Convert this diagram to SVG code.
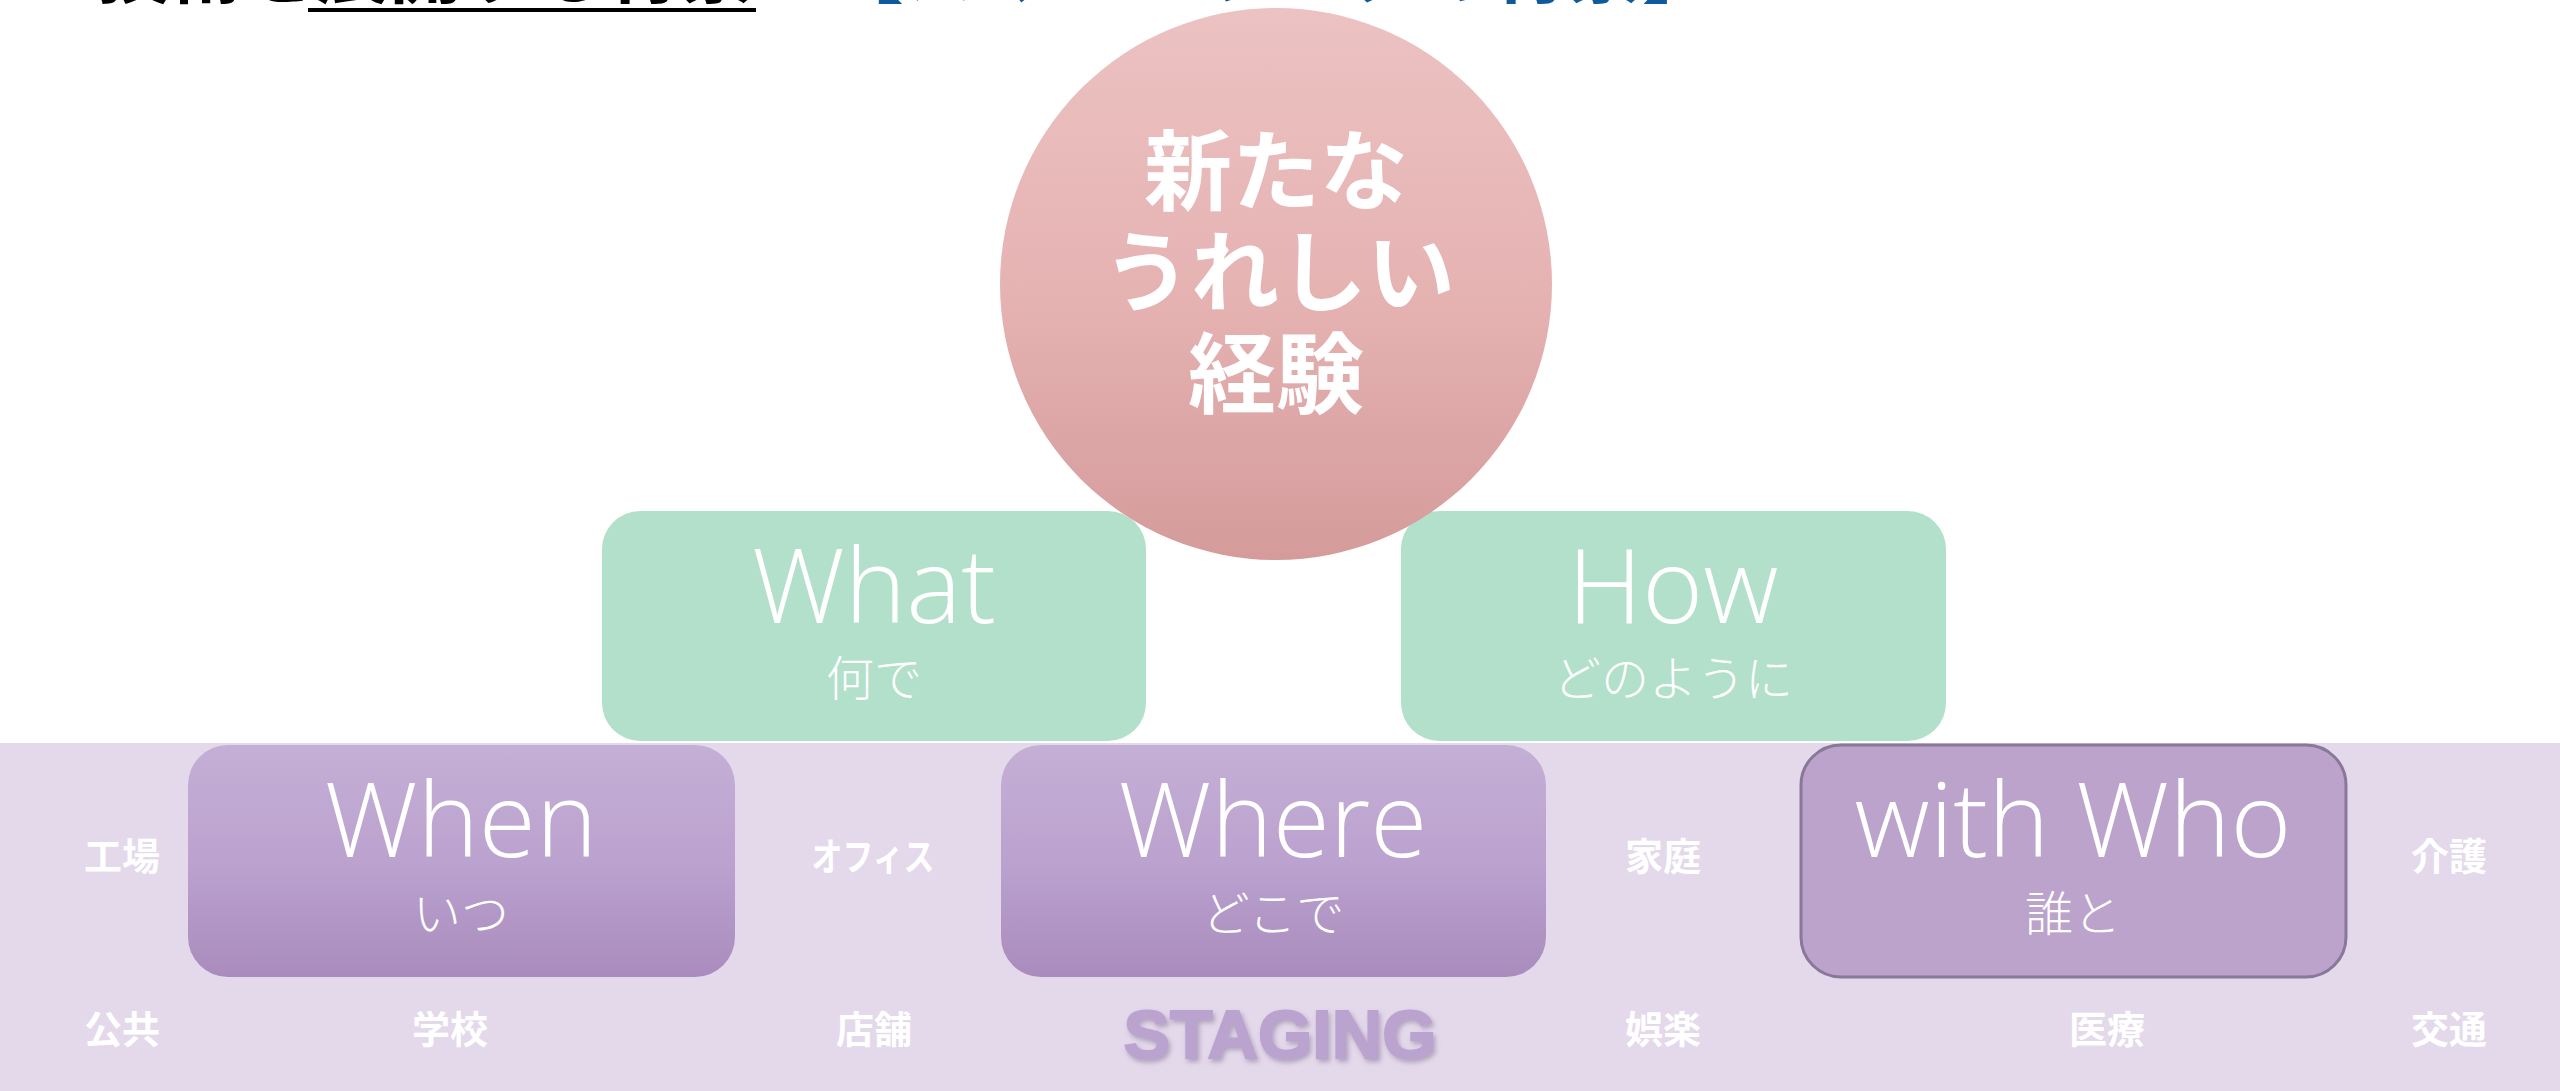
<svg xmlns="http://www.w3.org/2000/svg" width="2560" height="1091" viewBox="0 0 2560 1091">
<defs>
<linearGradient id="gCircle" x1="0" y1="0" x2="0" y2="1">
<stop offset="0" stop-color="#ECC2C2"/>
<stop offset="0.5" stop-color="#E6B3B3"/>
<stop offset="1" stop-color="#D59B9B"/>
</linearGradient>
<linearGradient id="gPurple" x1="0" y1="0" x2="0" y2="1">
<stop offset="0" stop-color="#C4AFD5"/>
<stop offset="0.5" stop-color="#BBA2CF"/>
<stop offset="1" stop-color="#A98CBD"/>
</linearGradient>
<filter id="shadow" x="-10%" y="-20%" width="120%" height="150%">
<feDropShadow dx="2" dy="3" stdDeviation="2.5" flood-color="#6E5C80" flood-opacity="0.45"/>
</filter>
</defs>
<style>
.en{font-family:"Open Sans","Segoe UI","DejaVu Sans",sans-serif;font-weight:300;fill:#FFFFFF;text-anchor:middle}
.jp{font-family:"Noto Sans CJK JP","Noto Sans",sans-serif;font-weight:300;fill:#FFFFFF;text-anchor:middle}
.lbl{font-family:"Noto Sans CJK JP","Noto Sans",sans-serif;font-weight:700;font-size:38px;fill:#FFFFFF;text-anchor:middle}
.big{font-family:"Noto Sans CJK JP","Noto Sans",sans-serif;font-weight:700;font-size:88px;fill:#FFFFFF;text-anchor:middle}
.green{fill:#B3E0CB}
.purple{fill:url(#gPurple)}
</style>
<rect x="0" y="0" width="2560" height="1091" fill="#FFFFFF"/>
<g id="title">
<text x="97" y="-3" font-family="Noto Sans CJK JP, sans-serif" font-weight="700" font-size="73" fill="#000000">技術を展開する背景</text>
<rect x="308" y="8" width="448" height="4" fill="#000000"/>
<text x="830" y="-3" font-family="Noto Sans CJK JP, sans-serif" font-weight="700" font-size="74" fill="#0F5A9C">【スマートワークの背景】</text>
</g>
<g id="band">
<rect x="0" y="743" width="2560" height="348" fill="#E4D9EB"/>
</g>
<g id="connectors"></g>
<g id="node-what">
<rect class="green" x="602" y="511" width="544" height="230" rx="38" ry="38"/>
<text class="en" x="874" y="623" font-size="104">What</text>
<text class="jp" x="874" y="696" font-size="48">何で</text>
</g>
<g id="node-how">
<rect class="green" x="1401" y="511" width="545" height="230" rx="38" ry="38"/>
<text class="en" x="1673" y="623" font-size="104">How</text>
<text class="jp" x="1673" y="696" font-size="48">どのように</text>
</g>
<g id="node-experience">
<circle cx="1276" cy="284" r="276" fill="url(#gCircle)"/>
<text class="big" x="1276" y="203">新たな</text>
<text class="big" x="1279" y="304">うれしい</text>
<text class="big" x="1276" y="406">経験</text>
</g>
<g id="node-when">
<rect class="purple" x="188" y="745" width="547" height="232" rx="40" ry="40"/>
<text class="en" x="461" y="857" font-size="104">When</text>
<text class="jp" x="461" y="931" font-size="48">いつ</text>
</g>
<g id="node-where">
<rect class="purple" x="1001" y="745" width="545" height="232" rx="40" ry="40"/>
<text class="en" x="1273" y="857" font-size="104">Where</text>
<text class="jp" x="1273" y="931" font-size="48">どこで</text>
</g>
<g id="node-withwho">
<rect x="1801" y="745" width="545" height="232" rx="40" ry="40" fill="#BBA3CB" stroke="#8A7898" stroke-width="3"/>
<text class="en" x="2073" y="857" font-size="104">with Who</text>
<text class="jp" x="2073" y="931" font-size="48">誰と</text>
</g>
<g id="labels">
<text class="lbl" x="122" y="870">工場</text>
<text class="lbl" x="873" y="870" textLength="123" lengthAdjust="spacingAndGlyphs">オフィス</text>
<text class="lbl" x="1663" y="870">家庭</text>
<text class="lbl" x="2449" y="870">介護</text>
<text class="lbl" x="122" y="1043">公共</text>
<text class="lbl" x="450" y="1043">学校</text>
<text class="lbl" x="874" y="1043">店舗</text>
<text class="lbl" x="1663" y="1043">娯楽</text>
<text class="lbl" x="2107" y="1043">医療</text>
<text class="lbl" x="2449" y="1043">交通</text>
</g>
<g id="staging">
<text x="1280" y="1058" font-family="Liberation Sans, Arial, sans-serif" font-weight="700" font-size="69" fill="#BBA3CF" stroke="#BBA3CF" stroke-width="2" text-anchor="middle" textLength="313" lengthAdjust="spacingAndGlyphs" filter="url(#shadow)">STAGING</text>
</g>
</svg>
